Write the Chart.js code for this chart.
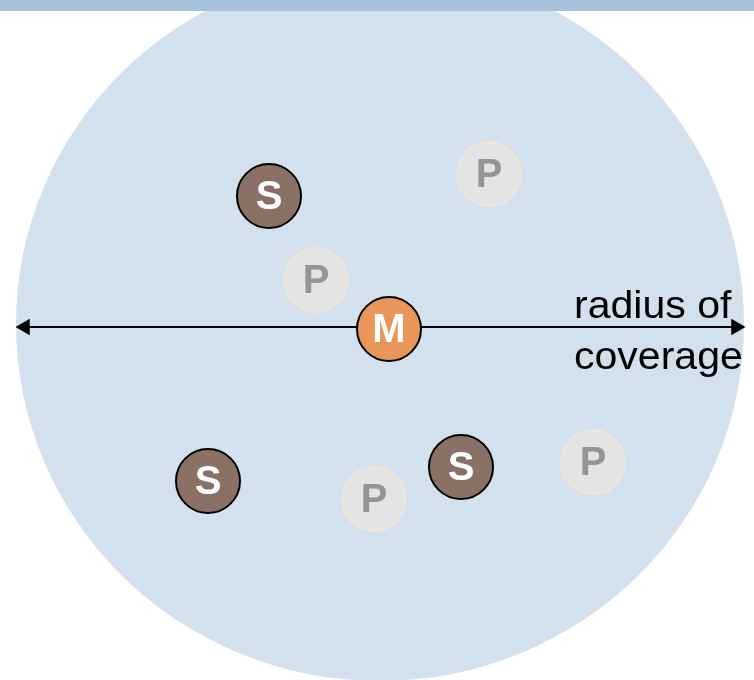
<!DOCTYPE html>
<html>
<head>
<meta charset="utf-8">
<script src="https://cdn.jsdelivr.net/npm/chart.js@4"></script>
<style>
  html, body { margin: 0; padding: 0; background: #fff; }
  #wrap { width: 754px; height: 680px; }
</style>
</head>
<body>
<div id="wrap"><canvas id="coverageChart" width="754" height="680"></canvas></div>
<script>
// coverage area (centre of the big circle)
const coverageX = [380];
const coverageY = [324];

// nodes
const nodeLabels = ['S', 'S', 'S', 'P', 'P', 'P', 'P', 'M'];
const nodeX = [269, 208, 461, 489, 316, 374, 593, 389];
const nodeY = [196, 481, 467, 174, 280, 499, 462, 329];

// radius arrow (both ends)
const arrowX = [25, 736];
const arrowY = [327, 327];

// caption
const captionLines = ['radius of', 'coverage'];
const captionX = [574, 574];
const captionY = [318, 369];

const nodeFill = { S: '#8b7066', P: '#e4e4e4', M: '#e8965a' };
const nodeBorder = { S: '#000000', P: '#efe7d4', M: '#000000' };
const nodeText = { S: '#ffffff', P: '#959595', M: '#ffffff' };

// the coverage area is a little taller than wide
function ellipseStyle(rx, ry, color) {
    const cv = document.createElement('canvas');
    cv.width = Math.ceil(rx * 2);
    cv.height = Math.ceil(ry * 2);
    const g = cv.getContext('2d');
    g.fillStyle = color;
    g.beginPath();
    g.ellipse(rx, ry, rx, ry, 0, 0, Math.PI * 2);
    g.fill();
    return cv;
}

window.addEventListener('DOMContentLoaded', () => {
    const ctx = document.getElementById('coverageChart').getContext('2d');

    // top band + letters in nodes + caption
    const decor = {
        id: 'decor',
        beforeDatasetsDraw(chart) {
            const c = chart.ctx;
            c.save();
            c.fillStyle = '#ffffff';
            c.fillRect(0, 0, chart.width, chart.height);
            c.restore();
        },
        afterDatasetsDraw(chart) {
            const c = chart.ctx;
            const xs = chart.scales.x, ys = chart.scales.y;
            c.save();
            // band at the top
            c.fillStyle = '#a6c3dc';
            c.fillRect(xs.getPixelForValue(0), ys.getPixelForValue(0),
                xs.getPixelForValue(754) - xs.getPixelForValue(0),
                ys.getPixelForValue(11) - ys.getPixelForValue(0));

            // letters
            const meta = chart.getDatasetMeta(0);
            c.font = 'bold 40px "Liberation Sans", Arial, sans-serif';
            c.textAlign = 'center';
            c.textBaseline = 'middle';
            meta.data.forEach((pt, i) => {
                const lab = nodeLabels[i];
                c.fillStyle = nodeText[lab];
                c.fillText(lab, pt.x, pt.y + 2);
            });

            // caption, a little wider than the font
            c.font = '38px "Liberation Sans", Arial, sans-serif';
            c.textAlign = 'left';
            c.textBaseline = 'alphabetic';
            c.fillStyle = '#000000';
            captionLines.forEach((t, i) => {
                c.save();
                c.translate(xs.getPixelForValue(captionX[i]), ys.getPixelForValue(captionY[i]));
                c.scale(1.08, 1);
                c.fillText(t, 0, 0);
                c.restore();
            });
            c.restore();
        }
    };

    new Chart(ctx, {
        type: 'scatter',
        data: {
            datasets: [
                {
                    label: 'nodes',
                    data: nodeX.map((x, i) => ({ x: x, y: nodeY[i] })),
                    pointRadius: 32,
                    pointHoverRadius: 32,
                    backgroundColor: nodeLabels.map(l => nodeFill[l]),
                    borderColor: nodeLabels.map(l => nodeBorder[l]),
                    borderWidth: nodeLabels.map(l => l === 'P' ? 1.5 : 2),
                    order: 1,
                    clip: false
                },
                {
                    label: 'radius',
                    type: 'line',
                    data: arrowX.map((x, i) => ({ x: x, y: arrowY[i] })),
                    borderColor: '#000000',
                    borderWidth: 2,
                    pointStyle: 'triangle',
                    pointRotation: [-90, 90],
                    pointRadius: 9.5,
                    backgroundColor: '#000000',
                    pointBorderWidth: 0,
                    showLine: true,
                    order: 5,
                    clip: false
                },
                {
                    label: 'coverage',
                    data: coverageX.map((x, i) => ({ x: x, y: coverageY[i] })),
                    pointStyle: ellipseStyle(364, 357, '#d3e1ee'),
                    pointRadius: 364,
                    borderWidth: 0,
                    order: 10,
                    clip: false
                }
            ]
        },
        options: {
            responsive: false,
            maintainAspectRatio: false,
            animation: false,
            events: [],
            layout: { padding: 0, autoPadding: false },
            plugins: {
                legend: { display: false },
                tooltip: { enabled: false }
            },
            scales: {
                x: { type: 'linear', min: 0, max: 754, display: false },
                y: { type: 'linear', min: 0, max: 680, reverse: true, display: false }
            }
        },
        plugins: [decor]
    });
});
</script>
</body>
</html>
